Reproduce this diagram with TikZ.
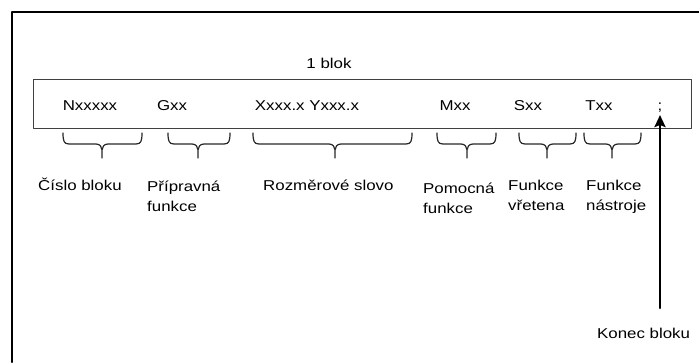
\documentclass[tikz,border=0pt]{standalone}
\usepackage{fontspec}
\setmainfont{Liberation Sans}[FakeStretch=1.18]
\usetikzlibrary{arrows.meta}
% slozena zavorka pod slovem: levy konec, pravy konec, spicka
\newcommand{\zavorka}[3]{%
 \draw[zav] (#1,133)..controls(#1,141) and({#1+1},144)..({#1+6},144)--({#3-6},144)
 ..controls({#3-2},144) and(#3,147)..(#3,150)--(#3,158)
 (#2,133)..controls(#2,141) and({#2-1},144)..({#2-6},144)--({#3+6},144)
 ..controls({#3+2},144) and(#3,147)..(#3,150);
}
% dva radky pod sebou, uctiaj na prvnim radku
\newcommand{\dvaradky}[2]{\begin{tabular}[t]{@{}l@{}}#1\\#2\end{tabular}}
\begin{document}
\begin{tikzpicture}[x=1pt,y=-1pt,line join=round,line cap=round,
 font=\fontsize{14.3}{20}\selectfont,
 zav/.style={line width=1.2pt,black!85},
 slovo/.style={inner sep=0pt,anchor=base},
 popis/.style={inner sep=0pt,anchor=base west}]
 \useasboundingbox (0,0) rectangle (699,362);
 \draw[line width=2.2pt] (699,12)--(12,12)--(12,362);
 \draw[line width=0.9pt,black!75] (33,79) rectangle (691,128);
 \node[slovo] (blok) at (329,68) {1 blok};
 \node[slovo] (cislo) at (90,110) {Nxxxxx};
 \node[slovo] (gfce) at (172,110) {Gxx};
 \node[slovo] (rozmer) at (307,110) {Xxxx.x Yxxx.x};
 \node[slovo] (mfce) at (455,110) {Mxx};
 \node[slovo] (sfce) at (528,110) {Sxx};
 \node[slovo] (tfce) at (599,110) {Txx};
 \node[slovo] (strednik) at (660,110) {;};
 \zavorka{63}{142}{102}
 \zavorka{168}{230}{198}
 \zavorka{253}{412}{335}
 \zavorka{437}{496}{467}
 \zavorka{519}{576}{547}
 \zavorka{584}{641}{612}
 \node[popis] (pcislo) at (38,190) {Číslo bloku};
 \node[popis] (pgfce) at (147,191) {\dvaradky{Přípravná}{funkce}};
 \node[popis] (prozmer) at (263,190) {Rozměrové slovo};
 \node[popis] (pmfce) at (423,193) {\dvaradky{Pomocná}{funkce}};
 \node[popis] (psfce) at (508,190) {\dvaradky{Funkce}{vřetena}};
 \node[popis] (ptfce) at (586,190) {\dvaradky{Funkce}{nástroje}};
 \node[popis] (konec) at (597,338) {Konec bloku};
 \coordinate (pata) at (660,308);
 \draw[line width=2.5pt,-{Stealth[length=12pt,width=11pt,inset=2pt]}] (pata)--([yshift=-3pt]strednik.south);
\end{tikzpicture}
\end{document}
